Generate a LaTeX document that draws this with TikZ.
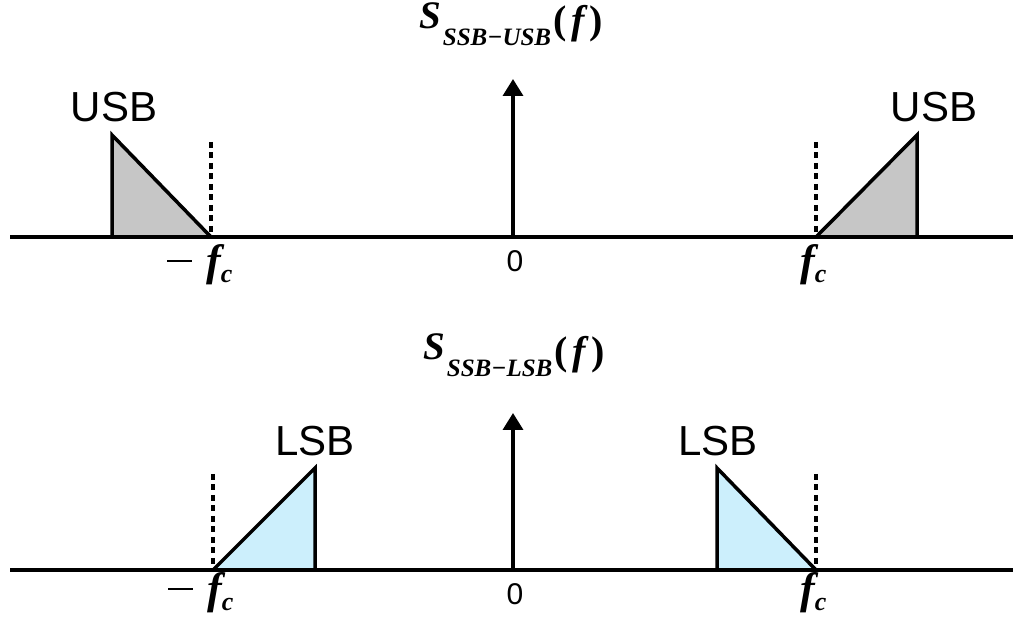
\documentclass[tikz,border=0pt]{standalone}
\usepackage{fontspec}
\setmainfont{Liberation Sans}
\newfontfamily\tnr{Liberation Serif}
\usetikzlibrary{arrows.meta}
\newcommand{\fcsub}{f\raisebox{-7pt}{\fontsize{26}{28}\selectfont c}}
\newcommand{\mns}{\rule[14pt]{25pt}{2.4pt}\hspace{14pt}}
\newcommand{\ttl}[1]{S\raisebox{-17pt}{\fontsize{25}{27}\selectfont\hspace{2pt}#1}\hspace{2pt}\raisebox{-5pt}{{\normalfont\tnr\bfseries\fontsize{40}{44}\selectfont(}\hspace{5pt}{\fontsize{40}{44}\selectfont f}\hspace{5pt}{\normalfont\tnr\bfseries\fontsize{40}{44}\selectfont)}}}
\begin{document}
\begin{tikzpicture}[x=1pt,y=-1pt,
  axis/.style={line width=3.5pt},
  band/.style={line width=3.5pt,line join=miter},
  usbfill/.style={band,fill=gray!45},
  lsbfill/.style={band,fill=cyan!20},
  marker/.style={line width=3.5pt,dash pattern=on 6pt off 4.5pt},
  impulse/.style={line width=3.5pt,-{Triangle[length=17pt,width=20pt]}},
  lbl/.style={inner sep=0pt,font=\fontsize{42}{46}\selectfont},
  mlbl/.style={inner sep=0pt,anchor=base west,font=\tnr\bfseries\itshape\fontsize{44}{48}\selectfont},
  tlbl/.style={inner sep=0pt,anchor=base west,font=\tnr\bfseries\itshape\fontsize{39}{42}\selectfont},
  zlbl/.style={inner sep=0pt,font=\fontsize{30}{34}\selectfont}]
\useasboundingbox (0,0) rectangle (1013,617);
% ---------- top ----------
\coordinate (a1l) at (10,237);
\coordinate (a1r) at (1013,237);
\draw[axis] (a1l) -- (a1r);
\coordinate (i1b) at (513,237);
\coordinate (i1t) at (513,79);
\draw[impulse] (i1b) -- (i1t);
% left USB
\coordinate (lu1) at (112,237);
\coordinate (lu2) at (112,135);
\coordinate (lu3) at (211,237);
\draw[usbfill] (lu1) -- (lu2) -- (lu3) -- cycle;
\coordinate (ld1) at (211,142);
\draw[marker] (ld1) -- (lu3);
% right USB
\coordinate (ru1) at (816,237);
\coordinate (ru2) at (917,135);
\coordinate (ru3) at (917,237);
\draw[usbfill] (ru1) -- (ru2) -- (ru3) -- cycle;
\coordinate (rd1) at (816,142);
\draw[marker] (rd1) -- (ru1);
% labels
\node[lbl] (usbL) at (114,107) {USB};
\node[lbl] (usbR) at (934,107) {USB};
\node[zlbl] (z1) at (515,261) {0};
\node[mlbl] (mfc1) at (167,276) {\mns\fcsub};
\node[mlbl] (fc1) at (800,276) {\fcsub};
\node[tlbl] (t1) at (419,29) {\ttl{SSB\textminus USB}};
% ---------- bottom ----------
\coordinate (a2l) at (10,570);
\coordinate (a2r) at (1013,570);
\draw[axis] (a2l) -- (a2r);
\coordinate (i2b) at (513,570);
\coordinate (i2t) at (513,413);
\draw[impulse] (i2b) -- (i2t);
% left LSB
\coordinate (ll1) at (213,570);
\coordinate (ll2) at (315,468);
\coordinate (ll3) at (315,570);
\draw[lsbfill] (ll1) -- (ll2) -- (ll3) -- cycle;
\coordinate (lld) at (213,474);
\draw[marker] (lld) -- (ll1);
% right LSB
\coordinate (rl1) at (717,570);
\coordinate (rl2) at (717,468);
\coordinate (rl3) at (816,570);
\draw[lsbfill] (rl1) -- (rl2) -- (rl3) -- cycle;
\coordinate (rld) at (816,474);
\draw[marker] (rld) -- (rl3);
% labels
\node[lbl] (lsbL) at (315,441) {LSB};
\node[lbl] (lsbR) at (718,441) {LSB};
\node[zlbl] (z2) at (515,594) {0};
\node[mlbl] (mfc2) at (168,604) {\mns\fcsub};
\node[mlbl] (fc2) at (800,604) {\fcsub};
\node[tlbl] (t2) at (423,360) {\ttl{SSB\textminus LSB}};
\end{tikzpicture}
\end{document}
